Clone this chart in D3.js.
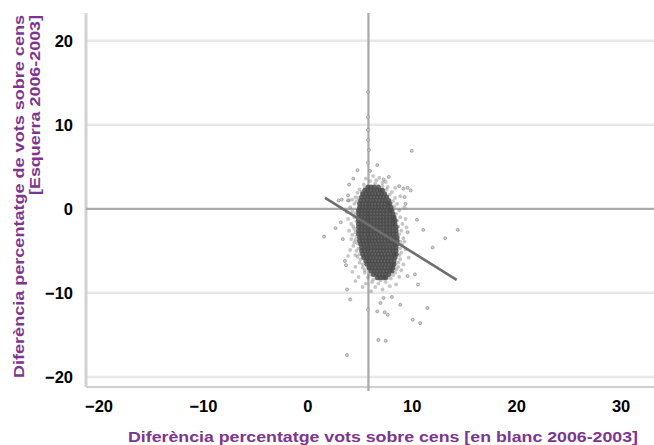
<!DOCTYPE html>
<html><head><meta charset="utf-8">
<script src="https://cdn.jsdelivr.net/npm/d3@7"></script>
<style>
html,body{margin:0;padding:0;background:#fff;}
svg{display:block;}
</style></head>
<body>
<svg id="chart" width="654" height="445"></svg>
<script>
// ---- data ----
const xTicks = [-20, -10, 0, 10, 20, 30];
const yTicks = [-20, -10, 0, 10, 20];
const xTitle = "Diferència percentatge vots sobre cens [en blanc 2006-2003]";
const yTitle1 = "Diferència percentatge de vots sobre cens";
const yTitle2 = "[Esquerra 2006-2003]";
const meanX = 5.85;             // vertical reference line
const regStart = [1.7, 1.3];    // regression line endpoints
const regEnd = [14.3, -8.45];

// dense core, rows: [y, x values]
const coreRows = [
  [2.6, [5.8, 6.1, 6.4, 6.8]],
  [2.2, [5.5, 5.8, 6.1, 6.4, 6.7, 7.0, 7.2]],
  [1.8, [5.3, 5.6, 5.9, 6.2, 6.5, 6.8, 7.1, 7.4]],
  [1.4, [5.2, 5.5, 5.8, 6.1, 6.4, 6.7, 7.0, 7.3, 7.6]],
  [1.0, [5.1, 5.4, 5.7, 6.0, 6.3, 6.6, 6.9, 7.2, 7.5, 7.8]],
  [0.6, [5.0, 5.3, 5.6, 5.9, 6.2, 6.5, 6.8, 7.1, 7.4, 7.7, 7.9]],
  [0.2, [5.0, 5.3, 5.6, 5.9, 6.2, 6.5, 6.8, 7.1, 7.4, 7.7, 8.0]],
  [-0.2, [4.9, 5.2, 5.5, 5.8, 6.1, 6.4, 6.7, 7.0, 7.3, 7.6, 7.9, 8.1]],
  [-0.6, [4.9, 5.2, 5.5, 5.8, 6.1, 6.4, 6.7, 7.0, 7.3, 7.6, 7.9, 8.2]],
  [-1.0, [4.9, 5.2, 5.5, 5.8, 6.1, 6.4, 6.7, 7.0, 7.3, 7.6, 7.9, 8.2, 8.3]],
  [-1.4, [4.9, 5.2, 5.5, 5.8, 6.1, 6.4, 6.7, 7.0, 7.3, 7.6, 7.9, 8.2, 8.4]],
  [-1.8, [4.9, 5.2, 5.5, 5.8, 6.1, 6.4, 6.7, 7.0, 7.3, 7.6, 7.9, 8.2, 8.4]],
  [-2.2, [4.9, 5.2, 5.5, 5.8, 6.1, 6.4, 6.7, 7.0, 7.3, 7.6, 7.9, 8.2, 8.5]],
  [-2.6, [4.9, 5.2, 5.5, 5.8, 6.1, 6.4, 6.7, 7.0, 7.3, 7.6, 7.9, 8.2, 8.5]],
  [-3.0, [4.9, 5.2, 5.5, 5.8, 6.1, 6.4, 6.7, 7.0, 7.3, 7.6, 7.9, 8.2, 8.5]],
  [-3.4, [5.0, 5.3, 5.6, 5.9, 6.2, 6.5, 6.8, 7.1, 7.4, 7.7, 8.0, 8.3, 8.6]],
  [-3.8, [5.0, 5.3, 5.6, 5.9, 6.2, 6.5, 6.8, 7.1, 7.4, 7.7, 8.0, 8.3, 8.6]],
  [-4.2, [5.1, 5.4, 5.7, 6.0, 6.3, 6.6, 6.9, 7.2, 7.5, 7.8, 8.1, 8.4, 8.6]],
  [-4.6, [5.2, 5.5, 5.8, 6.1, 6.4, 6.7, 7.0, 7.3, 7.6, 7.9, 8.2, 8.5]],
  [-5.0, [5.2, 5.5, 5.8, 6.1, 6.4, 6.7, 7.0, 7.3, 7.6, 7.9, 8.2, 8.5]],
  [-5.4, [5.3, 5.6, 5.9, 6.2, 6.5, 6.8, 7.1, 7.4, 7.7, 8.0, 8.3, 8.5]],
  [-5.8, [5.4, 5.7, 6.0, 6.3, 6.6, 6.9, 7.2, 7.5, 7.8, 8.1, 8.4]],
  [-6.2, [5.6, 5.9, 6.2, 6.5, 6.8, 7.1, 7.4, 7.7, 8.0, 8.3]],
  [-6.6, [5.7, 6.0, 6.3, 6.6, 6.9, 7.2, 7.5, 7.8, 8.1, 8.3]],
  [-7.0, [5.9, 6.2, 6.5, 6.8, 7.1, 7.4, 7.7, 8.0, 8.2]],
  [-7.4, [6.1, 6.4, 6.7, 7.0, 7.3, 7.6, 7.9, 8.1]],
  [-7.8, [6.3, 6.6, 6.9, 7.2, 7.5, 7.8]],
  [-8.2, [6.7, 7.0, 7.3, 7.5]]
];

// medium-density halo around the core
const haloPoints = [
  [4.6,1.4],[4.5,0.6],[4.3,-0.3],[4.5,-1.0],[4.2,-1.8],[4.5,-2.4],[4.3,-3.1],[4.6,-3.7],
  [4.4,-4.4],[4.7,-5.0],[4.8,-5.7],[5.0,-6.4],[5.3,-7.0],[5.5,-7.6],[5.8,-8.2],[6.2,-8.7],
  [6.8,-8.9],[7.5,-8.7],[8.0,-8.3],[8.4,-7.6],[8.7,-6.9],[8.9,-6.0],[9.0,-5.2],[9.1,-4.3],
  [9.2,-3.5],[9.0,-2.6],[9.1,-1.8],[8.9,-1.0],[8.8,-0.2],[8.6,0.6],[8.4,1.3],[8.1,2.0],
  [7.7,2.6],[7.2,3.1],[6.6,3.4],[6.0,3.3],[5.4,2.9],[5.0,2.3],[4.8,1.9],[5.6,3.6],
  [6.3,3.9],[6.9,3.7],[7.5,3.2],[4.1,0.2],[4.0,-2.6],[4.1,-4.9],[9.5,-2.2],[9.4,-4.8],
  [9.2,-6.6],[8.8,-8.1],[7.9,-9.2],[6.5,-9.3],[5.6,-8.9],[4.9,-8.1],[4.6,-6.9],[3.9,-1.2],
  [4.0,1.0],[9.3,0.2],[8.9,1.5],[8.4,2.5],
  [4.7,0.9],[4.6,-0.5],[4.7,-1.5],[4.6,-2.8],[4.7,-3.3],[4.8,-4.1],[4.9,-4.7],[5.0,-5.4],
  [5.1,-6.0],[5.3,-6.6],[5.5,-7.3],[5.9,-7.9],[6.3,-8.4],[7.0,-8.5],[7.7,-8.2],[8.2,-7.9],
  [8.5,-7.2],[8.7,-6.4],[8.8,-5.5],[8.9,-4.7],[8.9,-3.9],[8.8,-3.0],[8.7,-2.1],[8.6,-1.4],
  [8.5,-0.6],[8.3,0.3],[8.2,0.9],[7.9,1.7],[7.6,2.3],[7.2,2.7],[6.5,3.0],[5.5,2.5],
  [5.2,2.0],[4.9,1.3],[5.0,0.0],[4.4,-2.1],[4.5,-4.0],[4.6,-5.5],[4.3,1.1],[4.2,-3.6],
  [3.8,-0.4],[3.9,-5.6],[9.4,-1.2],[9.3,-3.9],[9.7,-5.8],[9.0,-7.3],[8.5,-9.0],[7.2,-9.6],
  [6.1,-9.8],[5.3,-9.3],[4.6,-8.6],[4.3,-7.5]
];

// scattered outliers
const outlierPoints = [
  [10.0,6.9],[6.7,5.2],[4.8,4.6],[4.4,3.6],[7.3,3.5],[7.8,3.8],[9.6,2.5],[9.9,2.2],[9.3,1.4],
  [3.0,1.0],[3.9,1.0],[2.7,-2.3],[1.6,-3.3],[3.2,-1.6],[10.5,-1.3],[11.1,-2.5],[14.4,-2.5],
  [13.2,-3.5],[12.0,-4.6],[10.6,-9.0],[10.3,-7.8],[9.6,-8.0],[3.7,-6.7],[3.8,-9.6],[4.1,-10.8],
  [7.0,-11.2],[8.1,-10.5],[8.9,-11.4],[7.3,-10.6],[11.5,-11.8],[10.1,-13.2],[10.8,-13.6],
  [6.8,-15.6],[7.5,-15.7],[3.8,-17.4],[6.7,-12.2],[7.7,-12.6],[7.4,-12.3],[5.8,-12.0],
  [5.8,13.9],[5.8,10.9],[5.8,9.4],[5.8,8.2],[5.9,7.0],[5.8,5.5],[6.0,4.5],[8.8,2.7],
  [9.2,2.4],[4.0,2.9],[3.3,1.1],[3.9,1.6],[3.4,-3.6],[3.6,-6.2],[9.6,-2.8],[9.4,0.6]
];

// ---- chart ----
const svg = d3.select("#chart");
const x = d3.scaleLinear().domain([-21.2, 33.2]).range([86, 654]);
const y = d3.scaleLinear().domain([-21.2, 23.3]).range([387, 13]);
const purple = "#7d3590";
const font = "'Liberation Sans', Arial, Helvetica, sans-serif";

const defs = svg.append("defs");
defs.append("filter").attr("id", "soft").attr("x", "-20%").attr("y", "-20%")
  .attr("width", "140%").attr("height", "140%")
  .append("feGaussianBlur").attr("stdDeviation", 0.6);

// gridlines
svg.append("g").selectAll("line").data(yTicks.filter(d => d !== 0)).join("line")
  .attr("x1", x.range()[0]).attr("x2", x.range()[1])
  .attr("y1", d => y(d)).attr("y2", d => y(d))
  .attr("stroke", "#e8e8e8").attr("stroke-width", 2.5);

// left axis line
svg.append("line").attr("x1", x.range()[0]).attr("x2", x.range()[0])
  .attr("y1", y.range()[1]).attr("y2", y.range()[0])
  .attr("stroke", "#d2d2d2").attr("stroke-width", 3);
// bottom axis line
svg.append("line").attr("x1", x.range()[0]).attr("x2", x.range()[1])
  .attr("y1", y.range()[0]).attr("y2", y.range()[0])
  .attr("stroke", "#cfcfcf").attr("stroke-width", 2);

// zero line and mean line
svg.append("line").attr("x1", x.range()[0]).attr("x2", x.range()[1])
  .attr("y1", y(0)).attr("y2", y(0))
  .attr("stroke", "#a9a9a9").attr("stroke-width", 2.2);
svg.append("line").attr("x1", x(meanX)).attr("x2", x(meanX))
  .attr("y1", y.range()[1]).attr("y2", y.range()[0] + 4)
  .attr("stroke", "#a9a9a9").attr("stroke-width", 2.2);

// points
const corePts = coreRows.flatMap(([yy, xs]) => xs.map(xx => [xx, yy]));
const gp = svg.append("g").attr("filter", "url(#soft)");
gp.selectAll("circle.o").data(outlierPoints).join("circle")
  .attr("class", "o")
  .attr("cx", d => x(d[0])).attr("cy", d => y(d[1])).attr("r", 1.5)
  .attr("fill", "#cfcfcf").attr("stroke", "#8f8f8f").attr("stroke-width", 0.7);
gp.selectAll("circle.h").data(haloPoints).join("circle")
  .attr("class", "h")
  .attr("cx", d => x(d[0])).attr("cy", d => y(d[1])).attr("r", 1.9)
  .attr("fill", "#808080").attr("fill-opacity", 0.45);
gp.selectAll("circle.c").data(corePts).join("circle")
  .attr("class", "c")
  .attr("cx", d => x(d[0])).attr("cy", d => y(d[1])).attr("r", 2.5)
  .attr("fill", "#4a4a4a").attr("fill-opacity", 0.85);

// regression line
svg.append("line")
  .attr("x1", x(regStart[0])).attr("y1", y(regStart[1]))
  .attr("x2", x(regEnd[0])).attr("y2", y(regEnd[1]))
  .attr("stroke", "#6e6e6e").attr("stroke-width", 2.6);

// axes labels
const yAxis = svg.append("g").attr("transform", `translate(${x.range()[0]},0)`)
  .call(d3.axisLeft(y).tickValues(yTicks).tickSize(0).tickPadding(13).tickFormat(d3.format("d")));
yAxis.select(".domain").remove();
yAxis.selectAll("text").attr("font-family", font).attr("font-size", 16.5)
  .attr("font-weight", "bold").attr("fill", "#000");

const xAxis = svg.append("g").attr("transform", `translate(0,${y.range()[0]})`)
  .call(d3.axisBottom(x).tickValues(xTicks).tickSize(0).tickPadding(13).tickFormat(d3.format("d")));
xAxis.select(".domain").remove();
xAxis.selectAll("text").attr("font-family", font).attr("font-size", 16.5)
  .attr("font-weight", "bold").attr("fill", "#000");

// titles
svg.append("text").attr("x", 638).attr("y", 442).attr("text-anchor", "end")
  .attr("font-family", font).attr("font-size", 15.5).attr("font-weight", "bold")
  .attr("textLength", 510).attr("lengthAdjust", "spacingAndGlyphs")
  .attr("fill", purple).text(xTitle);
svg.append("text").attr("transform", "translate(24,15) rotate(-90)").attr("text-anchor", "end")
  .attr("font-family", font).attr("font-size", 15.5).attr("font-weight", "bold")
  .attr("textLength", 363).attr("lengthAdjust", "spacingAndGlyphs")
  .attr("fill", purple).text(yTitle1);
svg.append("text").attr("transform", "translate(40,15) rotate(-90)").attr("text-anchor", "end")
  .attr("font-family", font).attr("font-size", 15.5).attr("font-weight", "bold")
  .attr("textLength", 180).attr("lengthAdjust", "spacingAndGlyphs")
  .attr("fill", purple).text(yTitle2);
</script>
</body></html>
